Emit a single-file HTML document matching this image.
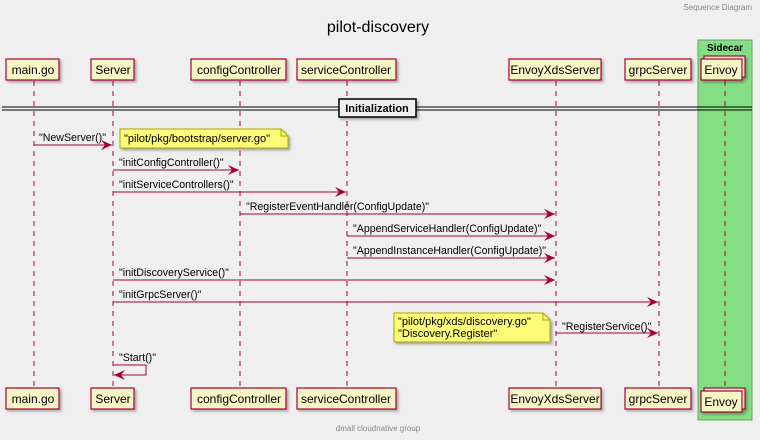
<!DOCTYPE html>
<html><head><meta charset="utf-8"><style>
html,body{margin:0;padding:0;background:#efefef;}
svg{display:block;font-family:"Liberation Sans",sans-serif;}
</style></head><body>
<svg width="760" height="440" viewBox="0 0 760 440" xmlns="http://www.w3.org/2000/svg">
<defs>
<marker id="ah" markerWidth="12" markerHeight="10" refX="11" refY="5" orient="auto" markerUnits="userSpaceOnUse">
<path d="M0,0 L11,5 L0,10 L4,5 Z" fill="#a80036"/>
</marker>
<filter id="sh" x="-10%" y="-10%" width="130%" height="140%"><feDropShadow dx="2" dy="2" stdDeviation="1.2" flood-color="#000" flood-opacity="0.3"/></filter>
</defs>
<rect width="760" height="440" fill="#efefef"/>
<text x="752" y="10" font-size="8" fill="#888" text-anchor="end">Sequence Diagram</text>
<text x="378" y="32" font-size="16" fill="#000" text-anchor="middle">pilot-discovery</text>
<rect x="698" y="40" width="54" height="380" fill="#84de84" stroke="#6a9e6a" stroke-width="1"/>
<text x="725" y="51" font-size="10" font-weight="bold" text-anchor="middle">Sidecar</text>
<g stroke="#a80036" stroke-width="1" stroke-dasharray="5,5">
<line x1="34" y1="81" x2="34" y2="388"/>
<line x1="113" y1="81" x2="113" y2="388"/>
<line x1="240" y1="81" x2="240" y2="388"/>
<line x1="347" y1="81" x2="347" y2="388"/>
<line x1="556" y1="81" x2="556" y2="388"/>
<line x1="659" y1="81" x2="659" y2="388"/>
<line x1="725" y1="81" x2="725" y2="388"/>
</g>
<g font-size="12" text-anchor="middle" fill="#000">
<g fill="#f7f4c6" stroke="#a80036" stroke-width="1.2" filter="url(#sh)">
<rect x="6" y="59" width="53" height="21"/><rect x="91" y="59" width="43" height="21"/>
<rect x="191" y="59" width="95" height="21"/><rect x="297" y="59" width="99" height="21"/>
<rect x="509" y="59" width="92" height="21"/><rect x="625" y="59" width="66" height="21"/>
<rect x="704" y="56" width="41" height="21"/><rect x="701" y="59" width="41" height="21"/>
<rect x="6" y="388" width="53" height="21"/><rect x="91" y="388" width="43" height="21"/>
<rect x="191" y="388" width="95" height="21"/><rect x="297" y="388" width="99" height="21"/>
<rect x="509" y="388" width="92" height="21"/><rect x="625" y="388" width="66" height="21"/>
<rect x="704" y="388" width="41" height="21"/><rect x="701" y="391" width="41" height="21"/>
</g>
<text x="33" y="74">main.go</text><text x="113" y="74">Server</text>
<text x="239" y="74">configController</text><text x="346" y="74">serviceController</text>
<text x="555" y="74">EnvoyXdsServer</text><text x="658" y="74">grpcServer</text>
<text x="721" y="74">Envoy</text>
<text x="33" y="403">main.go</text><text x="113" y="403">Server</text>
<text x="239" y="403">configController</text><text x="346" y="403">serviceController</text>
<text x="555" y="403">EnvoyXdsServer</text><text x="658" y="403">grpcServer</text>
<text x="721" y="406">Envoy</text>
</g>
<line x1="2" y1="107" x2="752" y2="107" stroke="#000" stroke-width="1"/>
<line x1="2" y1="110" x2="752" y2="110" stroke="#000" stroke-width="1"/>
<rect x="339" y="99" width="77" height="18" fill="#eeeeee" stroke="#000" stroke-width="1.5" filter="url(#sh)"/>
<text x="377" y="112" font-size="11" font-weight="bold" text-anchor="middle">Initialization</text>
<g stroke="#a80036" stroke-width="1" fill="none" marker-end="url(#ah)">
<line x1="34" y1="145" x2="112" y2="145"/>
<line x1="113" y1="170" x2="239" y2="170"/>
<line x1="113" y1="192" x2="346" y2="192"/>
<line x1="240" y1="214" x2="555" y2="214"/>
<line x1="347" y1="236" x2="555" y2="236"/>
<line x1="347" y1="258" x2="555" y2="258"/>
<line x1="113" y1="280" x2="555" y2="280"/>
<line x1="113" y1="302" x2="658" y2="302"/>
<line x1="556" y1="333" x2="658" y2="333"/>
<polyline points="113,365 146,365 146,375 114,375"/>
</g>
<g font-size="10.6" fill="#000">
<text x="39" y="141">"NewServer()"</text>
<text x="119" y="166">"initConfigController()"</text>
<text x="119" y="188">"initServiceControllers()"</text>
<text x="246" y="210">"RegisterEventHandler(ConfigUpdate)"</text>
<text x="353" y="232">"AppendServiceHandler(ConfigUpdate)"</text>
<text x="353" y="254">"AppendInstanceHandler(ConfigUpdate)"</text>
<text x="119" y="276">"initDiscoveryService()"</text>
<text x="119" y="298">"initGrpcServer()"</text>
<text x="562" y="330">"RegisterService()"</text>
<text x="119" y="361">"Start()"</text>
</g>
<g fill="#fbfb77" stroke="#a8a800" stroke-width="1" filter="url(#sh)">
<path d="M120,129 L281,129 L288,136 L288,148 L120,148 Z"/>
<path d="M394,313 L543,313 L550,320 L550,342 L394,342 Z"/>
</g>
<g fill="none" stroke="#a8a800" stroke-width="1">
<path d="M281,129 L281,136 L288,136"/><path d="M543,313 L543,320 L550,320"/>
</g>
<g font-size="11" fill="#000">
<text x="124" y="142">"pilot/pkg/bootstrap/server.go"</text>
<text x="398" y="325">"pilot/pkg/xds/discovery.go"</text>
<text x="398" y="337">"Discovery.Register"</text>
</g>
<text x="378" y="431" font-size="8" fill="#888" text-anchor="middle">dmall cloudnative group</text>
</svg>
</body></html>
